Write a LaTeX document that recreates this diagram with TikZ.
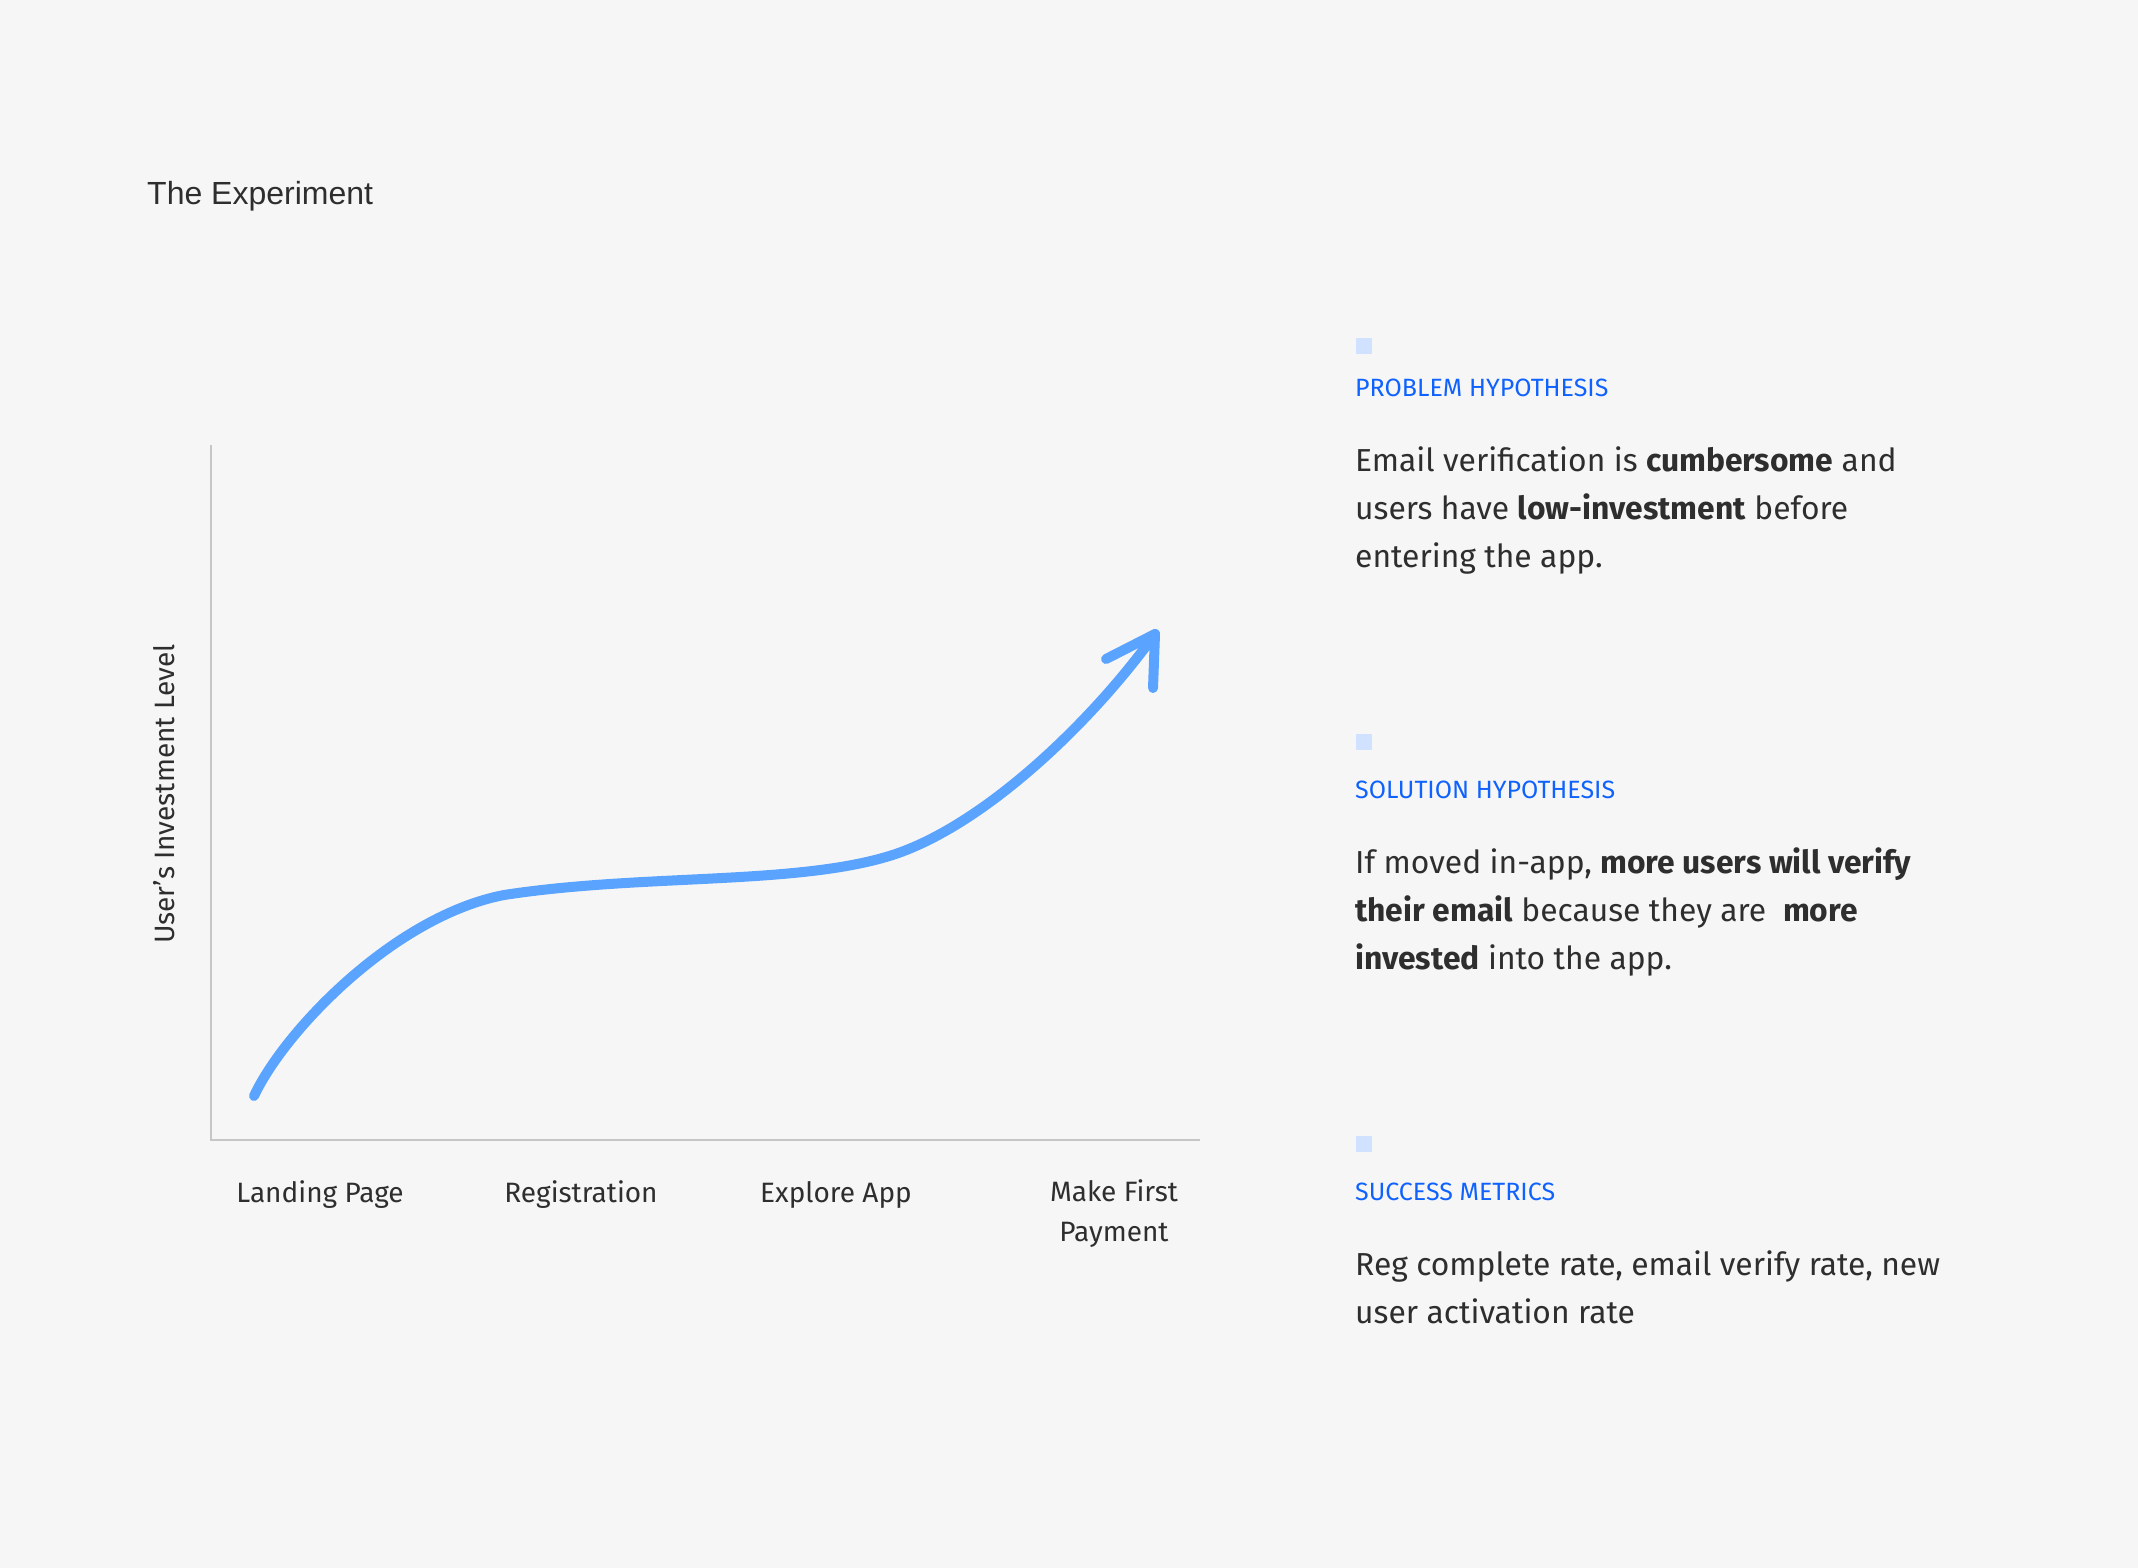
\documentclass[tikz,border=0pt]{standalone}
\usepackage{fontspec}
\setmainfont{Fira Sans}
\newfontfamily\titlefont{Liberation Sans}
\definecolor{bgc}{HTML}{F6F6F6}
\definecolor{txt}{HTML}{2E2E2E}
\definecolor{hdblue}{HTML}{0F62FE}
\definecolor{sqblue}{HTML}{D0E2FF}
\definecolor{curveblue}{HTML}{5AA4FF}
\definecolor{axisgray}{HTML}{C6C6C6}
\begin{document}
\begin{tikzpicture}[x=1pt,y=-1pt,
  body/.style={anchor=base west,align=left,inner sep=0,text=txt,font=\fontsize{31.8}{48}\selectfont},
  head/.style={anchor=base west,inner sep=0,text=hdblue,font=\fontsize{25}{30}\selectfont},
  sq/.style={fill=sqblue},
  xlab/.style={anchor=base,align=center,inner sep=0,text=txt,font=\fontsize{28}{39.5}\selectfont},
  axis/.style={draw=axisgray,line width=2.2},
  curve/.style={draw=curveblue,line width=10,line cap=round,line join=round}]
\fill[bgc] (0,0) rectangle (2138,1568);
\useasboundingbox (0,0) rectangle (2138,1568);
% title
\node[anchor=base west,inner sep=0,text=txt,font=\titlefont\fontsize{32}{38}\selectfont] (title) at (147,204) {The Experiment};
% axes
\coordinate (ytop) at (211,445);
\coordinate (origin) at (211,1140);
\coordinate (xend) at (1200,1140);
\draw[axis] (ytop) -- (origin) -- (xend);
\node[rotate=90,inner sep=0,text=txt,font=\fontsize{28}{32}\selectfont] (ylab) at (164,794) {User’s Investment Level};
% x labels
\node[xlab] (l1) at (320,1202) {Landing Page};
\node[xlab] (l2) at (581,1202) {Registration};
\node[xlab] (l3) at (836,1202) {Explore App};
\node[xlab] (l4) at (1114,1241) {Make First\\Payment};
% curve
\coordinate (cstart) at (254,1096);
\coordinate (cm1) at (504,895);
\coordinate (cm2) at (886,857);
\coordinate (tip) at (1155,634);
\coordinate (arm1) at (1106,659);
\coordinate (arm2) at (1153,688);
\draw[curve] (cstart) .. controls (285,1030) and (395,916) .. (cm1)
  .. controls (640,874) and (790,885) .. (cm2)
  .. controls (980,830) and (1092,722) .. (tip);
\draw[curve] (arm1) -- (tip) -- (arm2);
% right column
\fill[sq] (1356,338) rectangle (1372,354);
\node[head] (h1) at (1355,396) {PROBLEM HYPOTHESIS};
\node[body] (b1) at (1355,567) {Email verification is \textbf{cumbersome} and\\users have \textbf{low-investment} before\\entering the app.};
\fill[sq] (1356,734) rectangle (1372,750);
\node[head] (h2) at (1355,798) {SOLUTION HYPOTHESIS};
\node[body] (b2) at (1355,969) {If moved in-app, \textbf{more users will verify}\\\textbf{their email} because they are \ \textbf{more}\\\textbf{invested} into the app.};
\fill[sq] (1356,1136) rectangle (1372,1152);
\node[head] (h3) at (1355,1200) {SUCCESS METRICS};
\node[body] (b3) at (1355,1323) {Reg complete rate, email verify rate, new\\user activation rate};
\end{tikzpicture}
\end{document}
